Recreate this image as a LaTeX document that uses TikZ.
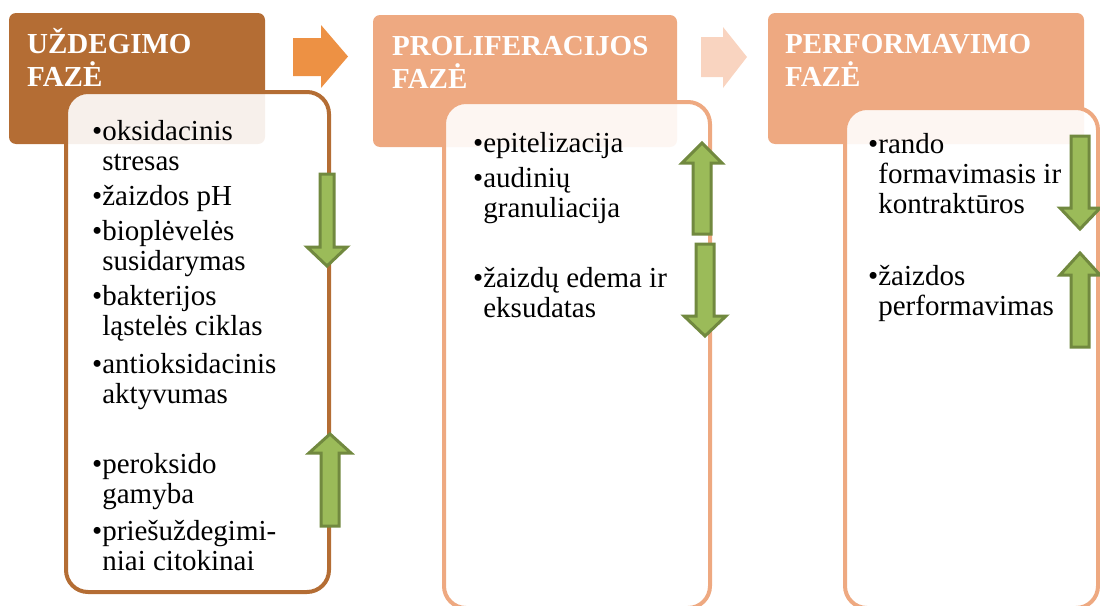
\documentclass[tikz,border=0pt]{standalone}
\usepackage{fontspec}
\setmainfont{LiberationSerif-Regular.ttf}[BoldFont=LiberationSerif-Bold.ttf]
\definecolor{hdrA}{HTML}{B46D34}
\definecolor{hdrB}{HTML}{EEA981}
\definecolor{arrA}{HTML}{ED9144}
\definecolor{arrB}{HTML}{F9D4C0}
\definecolor{gfill}{HTML}{9BBB59}
\definecolor{gline}{HTML}{71893F}
\newcommand\gdown[6]{% cx, top, headbase, tip, shafthalf, headhalf
  \draw[garr] (#1-#5,#2) -- (#1+#5,#2) -- (#1+#5,#3) -- (#1+#6,#3) -- (#1,#4) -- (#1-#6,#3) -- (#1-#5,#3) -- cycle;}
\newcommand\gup[6]{% cx, tip, headbase, bottom, shafthalf, headhalf
  \draw[garr] (#1,#2) -- (#1+#6,#3) -- (#1+#5,#3) -- (#1+#5,#4) -- (#1-#5,#4) -- (#1-#5,#3) -- (#1-#6,#3) -- cycle;}
\newcommand\lns[1]{\begin{tabular}[t]{@{}l@{}}#1\end{tabular}}
\newcommand\bh{\phantom{•}}
\begin{document}
\begin{tikzpicture}[x=1pt,y=-1pt,
  hdrbox/.style={rounded corners=7pt},
  bodybox/.style={fill=white, fill opacity=0.9, line width=4pt, rounded corners=22pt},
  garr/.style={fill=gfill, draw=gline, line width=3pt, line join=miter},
  htxt/.style={anchor=base west, inner sep=0pt, text=white, font=\rmfamily\fontsize{29}{30}\selectfont\bfseries},
  itxt/.style={anchor=base west, inner sep=0pt, text=black, font=\rmfamily\fontsize{29}{30}\selectfont}]
\useasboundingbox (0,0) rectangle (1100,605);
\clip (0,0) rectangle (1100,605);
% headers
\fill[hdrA, hdrbox] (9,13) rectangle (265,144);
\fill[hdrB, hdrbox] (373,15) rectangle (677,147);
\fill[hdrB, hdrbox] (768,13) rectangle (1084,144);
% phase arrows
\fill[arrA] (293,38) -- (321,38) -- (321,25) -- (348,56.5) -- (321,88) -- (321,76) -- (293,76) -- cycle;
\fill[arrB] (701,37) -- (723,37) -- (723,27) -- (747,57) -- (723,88) -- (723,77) -- (701,77) -- cycle;
% bodies
\draw[bodybox, draw=hdrA] (66,92) rectangle (329,592);
\draw[bodybox, draw=hdrB] (444,102) rectangle (710,608);
\draw[bodybox, draw=hdrB] (845,108) rectangle (1098,608);
% header texts
\node[htxt] (h1) at (27,53) {\lns{UŽDEGIMO\\FAZĖ}};
\node[htxt] (h2) at (392,55) {\lns{PROLIFERACIJOS\\FAZĖ}};
\node[htxt] (h3) at (785,53) {\lns{PERFORMAVIMO\\FAZĖ}};
% box 1 items
\node[itxt] (b1a) at (92,140) {\lns{•oksidacinis\\\bh stresas}};
\node[itxt] (b1b) at (92,205) {\lns{•žaizdos pH}};
\node[itxt] (b1c) at (92,240) {\lns{•bioplėvelės\\\bh susidarymas}};
\node[itxt] (b1d) at (92,305) {\lns{•bakterijos\\\bh ląstelės ciklas}};
\node[itxt] (b1e) at (92,373) {\lns{•antioksidacinis\\\bh aktyvumas}};
\node[itxt] (b1f) at (92,473) {\lns{•peroksido\\\bh gamyba}};
\node[itxt] (b1g) at (92,540) {\lns{•priešuždegimi-\\\bh niai citokinai}};
% box 2 items
\node[itxt] (b2a) at (473,152) {\lns{•epitelizacija}};
\node[itxt] (b2b) at (473,187) {\lns{•audinių\\\bh granuliacija}};
\node[itxt] (b2c) at (473,287) {\lns{•žaizdų edema ir\\\bh eksudatas}};
% box 3 items
\node[itxt] (b3a) at (868,153) {\lns{•rando\\\bh formavimasis ir\\\bh kontraktūros}};
\node[itxt] (b3b) at (868,285) {\lns{•žaizdos\\\bh performavimas}};
% green arrows
\gdown{327}{174}{247}{266}{7}{20}
\gup{330}{434}{453}{526}{9}{21}
\gup{702}{143}{163}{234}{9}{20}
\gdown{705}{244}{316}{336}{9}{21}
\gdown{1080}{136}{208}{229}{9}{20}
\gup{1080}{253}{275}{347}{9}{20}
\end{tikzpicture}
\end{document}
